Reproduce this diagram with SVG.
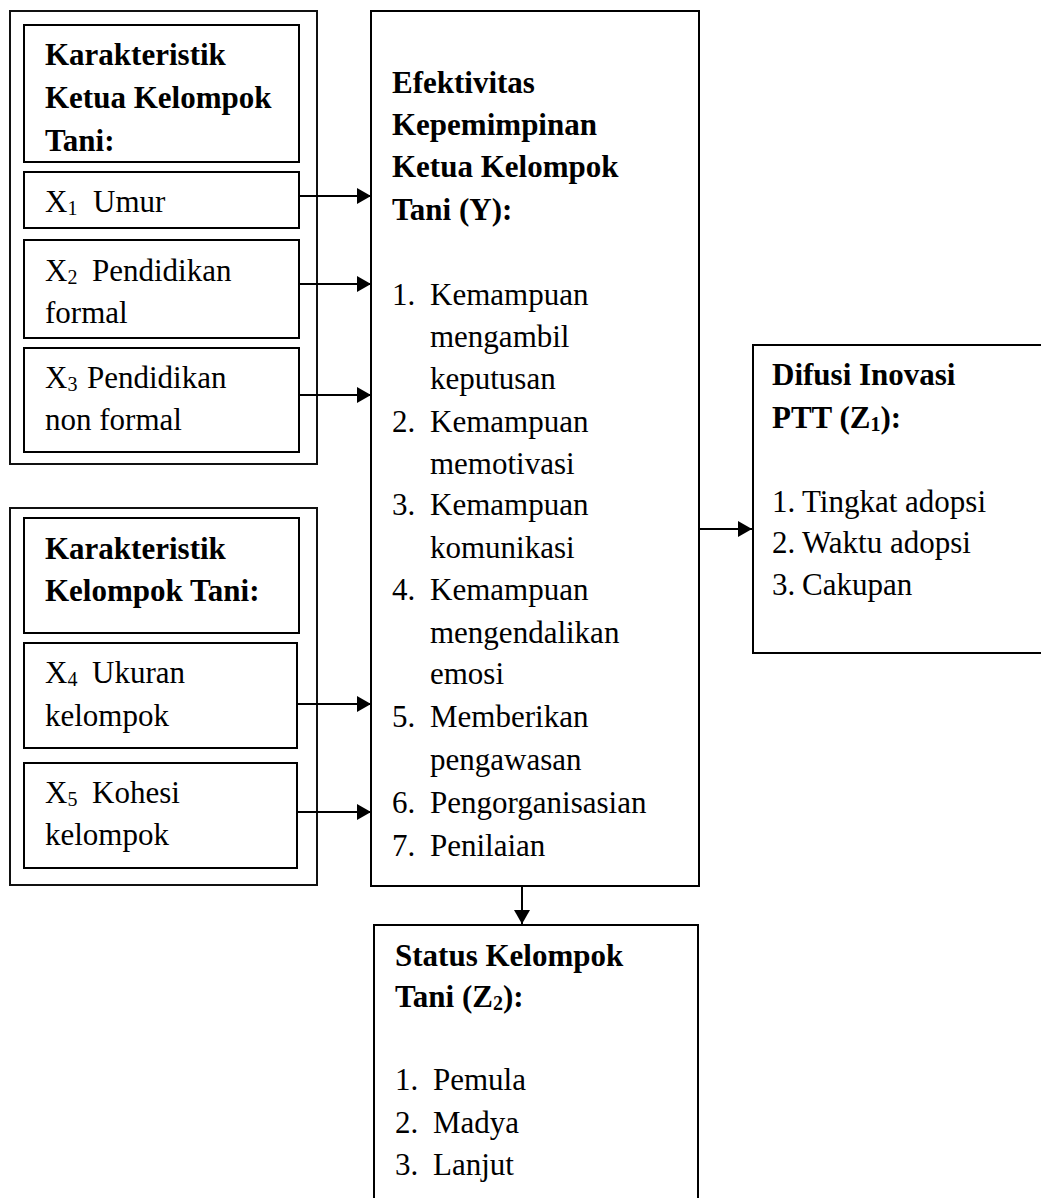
<svg xmlns="http://www.w3.org/2000/svg" width="1041" height="1198" viewBox="0 0 1041 1198">
<style>
.box{fill:none;stroke:#000;stroke-width:2}
.outer{fill:none;stroke:#111;stroke-width:2}
.t{font-family:"Liberation Serif","Times New Roman",serif;font-size:31px;fill:#000}
.b{font-weight:bold}
.sub{font-size:20px}
.conn{stroke:#000;stroke-width:2;fill:none}
</style>
<defs>
<marker id="ah" viewBox="0 0 14 16" markerWidth="14" markerHeight="16" refX="14" refY="8" orient="auto" markerUnits="userSpaceOnUse">
<path d="M0,0 L14,8 L0,16 Z" fill="#000"/>
</marker>
</defs>
<rect width="1041" height="1198" fill="#fff"/>

<g id="group-ketua">
<rect class="outer" x="10" y="11" width="307" height="453"/>
</g>
<g id="header-ketua">
<rect class="box" x="24" y="25" width="275" height="137"/>
<text class="t b" x="45" y="65">Karakteristik</text>
<text class="t b" x="45" y="108">Ketua Kelompok</text>
<text class="t b" x="45" y="151">Tani:</text>
</g>
<g id="x1">
<rect class="box" x="24" y="172" width="275" height="56"/>
<text class="t" x="45" y="212">X<tspan class="sub" dy="3">1</tspan><tspan x="93" dy="-3">Umur</tspan></text>
</g>
<g id="x2">
<rect class="box" x="24" y="240" width="275" height="98"/>
<text class="t" x="45" y="281">X<tspan class="sub" dy="3">2</tspan><tspan x="92" dy="-3">Pendidikan</tspan></text>
<text class="t" x="45" y="323">formal</text>
</g>
<g id="x3">
<rect class="box" x="24" y="348" width="275" height="104"/>
<text class="t" x="45" y="388">X<tspan class="sub" dy="3">3</tspan><tspan x="87" dy="-3">Pendidikan</tspan></text>
<text class="t" x="45" y="430">non formal</text>
</g>

<g id="group-kelompok">
<rect class="outer" x="10" y="508" width="307" height="377"/>
</g>
<g id="header-kelompok">
<rect class="box" x="24" y="518" width="275" height="115"/>
<text class="t b" x="45" y="559">Karakteristik</text>
<text class="t b" x="45" y="601">Kelompok Tani:</text>
</g>
<g id="x4">
<rect class="box" x="24" y="643" width="273" height="105"/>
<text class="t" x="45" y="683">X<tspan class="sub" dy="3">4</tspan><tspan x="92" dy="-3">Ukuran</tspan></text>
<text class="t" x="45" y="726">kelompok</text>
</g>
<g id="x5">
<rect class="box" x="24" y="763" width="273" height="105"/>
<text class="t" x="45" y="803">X<tspan class="sub" dy="3">5</tspan><tspan x="92" dy="-3">Kohesi</tspan></text>
<text class="t" x="45" y="845">kelompok</text>
</g>

<g id="y">
<rect class="box" x="371" y="11" width="328" height="875"/>
<text class="t b" x="392" y="93">Efektivitas</text>
<text class="t b" x="392" y="135">Kepemimpinan</text>
<text class="t b" x="392" y="177">Ketua Kelompok</text>
<text class="t b" x="392" y="220">Tani (Y):</text>
<text class="t" x="392" y="305">1.</text><text class="t" x="430" y="305">Kemampuan</text>
<text class="t" x="430" y="347">mengambil</text>
<text class="t" x="430" y="389">keputusan</text>
<text class="t" x="392" y="432">2.</text><text class="t" x="430" y="432">Kemampuan</text>
<text class="t" x="430" y="474">memotivasi</text>
<text class="t" x="392" y="515">3.</text><text class="t" x="430" y="515">Kemampuan</text>
<text class="t" x="430" y="558">komunikasi</text>
<text class="t" x="392" y="600">4.</text><text class="t" x="430" y="600">Kemampuan</text>
<text class="t" x="430" y="643">mengendalikan</text>
<text class="t" x="430" y="684">emosi</text>
<text class="t" x="392" y="727">5.</text><text class="t" x="430" y="727">Memberikan</text>
<text class="t" x="430" y="770">pengawasan</text>
<text class="t" x="392" y="813">6.</text><text class="t" x="430" y="813">Pengorganisasian</text>
<text class="t" x="392" y="856">7.</text><text class="t" x="430" y="856">Penilaian</text>
</g>

<g id="z1">
<rect class="box" x="753" y="345" width="300" height="308"/>
<text class="t b" x="772" y="385">Difusi Inovasi</text>
<text class="t b" x="772" y="428">PTT (Z<tspan class="sub" dy="3">1</tspan><tspan dy="-3">):</tspan></text>
<text class="t" x="772" y="512">1.</text><text class="t" x="802" y="512">Tingkat adopsi</text>
<text class="t" x="772" y="553">2.</text><text class="t" x="802" y="553">Waktu adopsi</text>
<text class="t" x="772" y="595">3.</text><text class="t" x="802" y="595">Cakupan</text>
</g>

<g id="z2">
<rect class="box" x="374" y="925" width="324" height="300"/>
<text class="t b" x="395" y="966">Status Kelompok</text>
<text class="t b" x="395" y="1007">Tani (Z<tspan class="sub" dy="3">2</tspan><tspan dy="-3">):</tspan></text>
<text class="t" x="395" y="1090">1.</text><text class="t" x="433" y="1090">Pemula</text>
<text class="t" x="395" y="1133">2.</text><text class="t" x="433" y="1133">Madya</text>
<text class="t" x="395" y="1175">3.</text><text class="t" x="433" y="1175">Lanjut</text>
</g>

<g id="connectors">
<line class="conn" x1="299" y1="196" x2="371" y2="196" marker-end="url(#ah)"/>
<line class="conn" x1="299" y1="284" x2="371" y2="284" marker-end="url(#ah)"/>
<line class="conn" x1="299" y1="395" x2="371" y2="395" marker-end="url(#ah)"/>
<line class="conn" x1="297" y1="704" x2="371" y2="704" marker-end="url(#ah)"/>
<line class="conn" x1="297" y1="812" x2="371" y2="812" marker-end="url(#ah)"/>
<line class="conn" x1="699" y1="529" x2="752" y2="529" marker-end="url(#ah)"/>
<line class="conn" x1="522" y1="886" x2="522" y2="924" marker-end="url(#ah)"/>
</g>
</svg>
